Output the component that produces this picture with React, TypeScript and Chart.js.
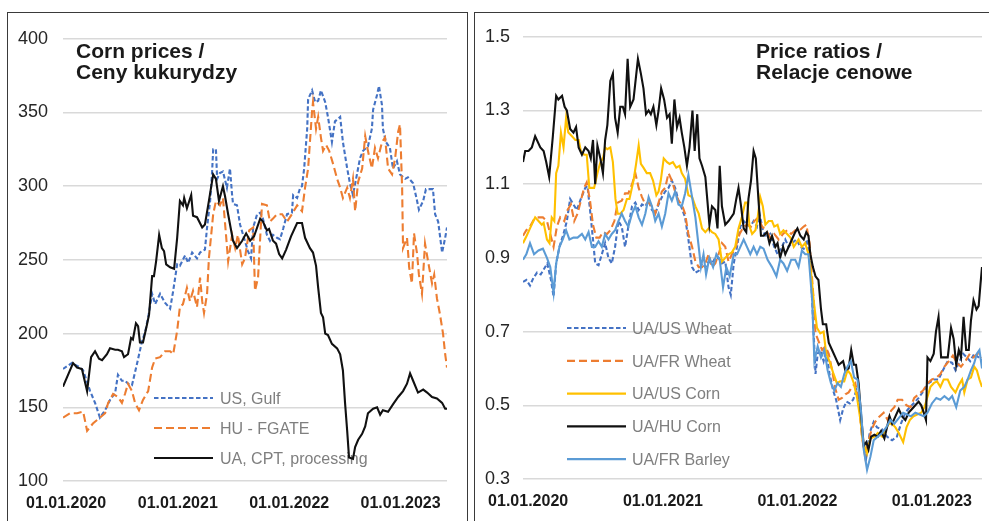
import React, { useEffect, useRef } from "react";
import { Chart, registerables } from "chart.js";

Chart.register(...registerables);

const FONT = "'Liberation Sans', Arial, Helvetica, sans-serif";

// x values are days counted from 01.01.2020
const YEAR_TICK_DAYS = [0, 366, 731, 1096];
const YEAR_TICK_LABELS = ["01.01.2020", "01.01.2021", "01.01.2022", "01.01.2023"];

// ---------- Left panel: Corn prices ----------
const CORN_TITLE = ["Corn prices /", "Ceny kukurydzy"];
const CORN_Y_TICKS = [100, 150, 200, 250, 300, 350, 400];
const CORN_LABELS = ["US, Gulf", "HU - FGATE", "UA, CPT, processing"];

const US_GULF: [number, number][] = [
  [-10,176],[19,180],[46,177],[56,175],[79,161],[95,153],[111,143],[128,148],[144,155],[161,160],[170,172],[183,168],[193,168],[203,166],[216,165],[233,180],[249,195],[259,201],[269,211],[282,227],[292,220],[308,227],[324,221],[341,217],[351,229],[364,247],[373,246],[390,253],[400,248],[413,255],[429,251],[439,255],[455,257],[462,272],[472,290],[478,308],[482,325],[491,325],[495,305],[504,309],[514,310],[527,299],[537,312],[544,294],[547,288],[560,287],[570,274],[580,267],[596,256],[606,251],[613,272],[626,281],[636,282],[645,278],[658,267],[668,263],[678,267],[691,265],[701,264],[711,271],[724,281],[740,282],[744,294],[757,292],[767,299],[773,300],[780,312],[790,339],[793,359],[806,365],[816,357],[826,358],[835,365],[849,357],[858,347],[871,330],[881,344],[898,347],[907,330],[921,312],[930,302],[940,294],[953,308],[963,319],[973,324],[989,327],[1002,339],[1006,352],[1019,362],[1025,368],[1035,355],[1038,339],[1048,330],[1061,326],[1071,312],[1084,317],[1094,308],[1111,305],[1120,306],[1137,302],[1150,290],[1156,284],[1170,290],[1179,298],[1192,298],[1202,298],[1209,281],[1219,276],[1232,255],[1242,265],[1248,272]
];

const HU_FGATE: [number, number][] = [
  [-10,143],[13,146],[36,146],[56,147],[69,134],[88,139],[111,143],[128,146],[138,153],[154,159],[170,157],[183,153],[193,159],[203,166],[216,161],[226,153],[239,148],[252,155],[269,161],[282,177],[292,183],[308,184],[324,188],[341,188],[351,186],[364,202],[373,218],[383,220],[396,231],[406,222],[416,229],[429,218],[439,238],[446,222],[452,214],[462,227],[468,251],[482,281],[491,290],[504,287],[514,292],[524,267],[531,249],[544,267],[554,258],[563,267],[577,247],[586,251],[600,270],[613,272],[619,229],[629,238],[642,288],[658,287],[668,276],[678,278],[691,281],[708,281],[724,276],[740,281],[757,287],[773,283],[783,299],[793,312],[806,351],[809,357],[819,339],[826,347],[835,333],[842,324],[852,328],[862,324],[875,315],[888,305],[898,299],[907,292],[921,299],[930,292],[940,305],[947,283],[957,303],[970,312],[980,334],[989,324],[1002,312],[1012,326],[1022,319],[1035,330],[1045,333],[1055,312],[1068,308],[1078,319],[1088,337],[1094,342],[1101,299],[1104,258],[1117,265],[1124,245],[1133,234],[1140,268],[1150,254],[1156,240],[1166,227],[1176,261],[1186,249],[1199,234],[1206,240],[1215,224],[1225,213],[1235,200],[1242,186],[1248,177]
];

const UA_CPT: [number, number][] = [
  [-10,164],[23,180],[36,177],[52,176],[69,161],[82,184],[95,188],[108,183],[118,182],[134,186],[144,190],[161,189],[170,189],[183,188],[190,184],[203,186],[213,197],[219,196],[229,207],[236,205],[242,194],[252,194],[265,206],[272,213],[282,239],[288,239],[295,249],[305,267],[314,258],[321,256],[328,247],[341,245],[354,244],[364,265],[373,290],[383,287],[387,292],[396,285],[410,294],[416,280],[429,279],[446,272],[455,274],[468,290],[482,308],[491,305],[501,290],[514,300],[521,293],[531,281],[547,263],[560,258],[577,263],[590,268],[603,263],[616,266],[636,278],[645,276],[658,270],[665,271],[678,263],[688,261],[698,254],[708,251],[721,257],[737,266],[757,275],[773,275],[783,265],[799,258],[809,255],[819,246],[826,231],[835,214],[842,211],[849,200],[858,199],[871,193],[888,190],[898,186],[907,175],[914,153],[921,134],[927,116],[940,115],[947,123],[957,128],[970,132],[980,137],[989,146],[1006,149],[1019,150],[1029,145],[1038,148],[1055,147],[1071,152],[1088,157],[1104,161],[1117,166],[1127,173],[1137,168],[1153,160],[1170,162],[1183,160],[1199,157],[1215,156],[1232,153],[1242,149],[1248,149]
];

// ---------- Right panel: Price ratios ----------
const RATIO_TITLE = ["Price ratios /", "Relacje cenowe"];
const RATIO_Y_TICKS = [0.3, 0.5, 0.7, 0.9, 1.1, 1.3, 1.5];
const RATIO_LABELS = ["UA/US Wheat", "UA/FR Wheat", "UA/US Corn", "UA/HU Corn", "UA/FR Barley"];

const UA_US_WHEAT: [number, number][] = [
  [-14,0.835],[-5,0.84],[5,0.825],[14,0.845],[24,0.86],[34,0.855],[43,0.87],[52,0.885],[62,0.84],[69,0.795],[76,0.885],[85,0.93],[96,0.965],[105,1.0],[114,1.06],[123,1.045],[132,1.03],[143,1.06],[155,1.09],[161,1.095],[168,1.03],[176,0.95],[182,0.885],[191,0.88],[200,0.91],[209,0.94],[218,0.9],[227,0.885],[236,0.93],[245,1.0],[254,0.985],[263,0.93],[272,0.985],[282,1.04],[291,1.05],[300,1.03],[309,1.045],[318,1.04],[327,1.055],[336,1.03],[345,1.02],[354,1.045],[363,1.065],[372,1.08],[381,1.09],[390,1.11],[399,1.09],[408,1.055],[417,1.035],[426,1.01],[435,0.95],[445,0.875],[454,0.86],[463,0.865],[472,0.885],[481,0.875],[490,0.89],[499,0.885],[508,0.9],[517,0.9],[526,0.885],[535,0.89],[544,0.82],[550,0.8],[558,0.885],[567,0.93],[576,0.985],[585,1.0],[594,0.99],[603,0.985],[612,1.0],[621,0.985],[628,1.02],[637,0.975],[646,0.955],[657,0.965],[668,0.93],[677,0.91],[689,0.93],[698,0.95],[707,0.93],[716,0.94],[728,0.95],[739,0.93],[748,0.925],[757,0.95],[766,0.89],[775,0.695],[780,0.585],[786,0.64],[793,0.65],[802,0.62],[809,0.65],[818,0.585],[828,0.54],[836,0.515],[847,0.46],[855,0.49],[864,0.51],[873,0.505],[882,0.515],[891,0.54],[900,0.505],[909,0.4],[918,0.36],[927,0.425],[938,0.455],[947,0.44],[961,0.435],[974,0.415],[988,0.405],[1001,0.415],[1012,0.45],[1024,0.48],[1036,0.495],[1046,0.505],[1060,0.52],[1074,0.54],[1087,0.56],[1101,0.57],[1114,0.57],[1126,0.595],[1139,0.62],[1151,0.615],[1160,0.595],[1169,0.615],[1181,0.64],[1191,0.63],[1200,0.62],[1211,0.64],[1223,0.63],[1232,0.62]
];

const UA_FR_WHEAT: [number, number][] = [
  [-14,0.96],[-5,0.975],[5,0.985],[16,1.005],[28,1.01],[40,1.01],[51,1.0],[60,0.965],[69,0.93],[78,0.985],[87,1.01],[98,1.0],[107,1.03],[116,1.045],[125,1.0],[134,1.02],[143,1.055],[152,1.09],[159,1.105],[168,1.055],[176,0.99],[185,0.955],[194,0.955],[203,0.97],[214,0.965],[223,0.975],[234,1.0],[243,1.05],[254,1.055],[263,1.075],[272,1.075],[282,1.1],[291,1.13],[300,1.09],[309,1.065],[318,1.045],[327,1.05],[336,1.04],[345,1.02],[354,1.05],[363,1.08],[372,1.09],[381,1.13],[390,1.11],[399,1.08],[408,1.055],[417,1.045],[426,1.02],[435,0.965],[445,0.93],[454,0.89],[463,0.875],[472,0.875],[481,0.885],[490,0.91],[499,0.875],[508,0.885],[517,0.91],[526,0.94],[535,0.93],[544,0.89],[553,0.91],[562,0.925],[574,0.965],[585,0.985],[596,0.99],[605,0.985],[614,1.0],[625,1.01],[635,0.985],[646,0.975],[657,0.955],[668,0.965],[680,0.95],[692,0.965],[703,0.975],[714,0.965],[725,0.975],[737,0.975],[748,0.985],[755,0.99],[764,0.94],[775,0.785],[780,0.695],[788,0.675],[798,0.65],[807,0.66],[816,0.64],[825,0.595],[834,0.545],[843,0.515],[852,0.52],[861,0.53],[870,0.535],[879,0.55],[888,0.56],[897,0.515],[906,0.415],[915,0.36],[924,0.405],[933,0.435],[942,0.455],[954,0.47],[965,0.48],[976,0.46],[985,0.485],[994,0.495],[1003,0.515],[1015,0.515],[1027,0.5],[1038,0.495],[1048,0.52],[1060,0.53],[1072,0.54],[1084,0.56],[1096,0.57],[1108,0.575],[1119,0.585],[1130,0.605],[1142,0.62],[1153,0.635],[1164,0.615],[1175,0.605],[1187,0.62],[1199,0.64],[1209,0.63],[1220,0.64],[1232,0.63]
];

const UA_US_CORN: [number, number][] = [
  [-14,0.94],[-4,0.96],[5,0.98],[19,1.01],[28,1.0],[37,0.99],[42,0.995],[51,0.95],[58,0.94],[64,1.01],[71,1.0],[76,1.13],[82,1.15],[89,1.24],[96,1.2],[103,1.28],[109,1.24],[119,1.23],[128,1.22],[137,1.22],[143,1.19],[152,1.18],[159,1.18],[166,1.09],[173,1.09],[179,1.09],[188,1.13],[196,1.16],[203,1.17],[209,1.2],[215,1.195],[223,1.2],[230,1.16],[237,1.06],[243,1.02],[250,1.02],[259,1.03],[268,1.06],[275,1.06],[286,1.11],[293,1.155],[300,1.205],[306,1.155],[313,1.145],[322,1.13],[331,1.13],[339,1.11],[348,1.07],[354,1.08],[360,1.11],[368,1.17],[377,1.16],[384,1.155],[393,1.16],[402,1.145],[411,1.15],[417,1.13],[426,1.115],[435,1.07],[445,1.065],[454,1.04],[463,1.02],[472,0.98],[481,0.97],[490,0.98],[499,0.97],[508,0.965],[517,0.95],[526,0.89],[535,0.9],[544,0.91],[553,0.915],[562,0.93],[571,0.98],[580,1.01],[589,1.05],[595,1.05],[601,0.985],[608,0.965],[617,0.975],[623,1.01],[630,1.065],[637,1.04],[644,0.99],[653,1.0],[662,1.0],[668,0.985],[677,0.99],[684,0.965],[693,0.975],[703,0.965],[712,0.955],[721,0.93],[734,0.95],[743,0.93],[752,0.94],[761,0.91],[768,0.86],[775,0.785],[784,0.71],[793,0.695],[802,0.7],[809,0.64],[818,0.62],[829,0.585],[838,0.56],[847,0.565],[858,0.565],[867,0.595],[875,0.585],[884,0.56],[893,0.52],[902,0.46],[909,0.4],[920,0.37],[929,0.41],[940,0.415],[949,0.425],[961,0.415],[970,0.435],[979,0.45],[988,0.45],[997,0.44],[1006,0.425],[1018,0.4],[1027,0.44],[1036,0.46],[1046,0.47],[1056,0.475],[1067,0.48],[1076,0.495],[1083,0.52],[1092,0.55],[1101,0.56],[1110,0.565],[1119,0.55],[1128,0.57],[1139,0.57],[1148,0.55],[1160,0.535],[1169,0.555],[1178,0.57],[1184,0.535],[1193,0.57],[1202,0.575],[1211,0.605],[1218,0.595],[1225,0.57],[1232,0.55]
];

const UA_HU_CORN: [number, number][] = [
  [-14,1.16],[-8,1.19],[1,1.19],[10,1.2],[19,1.23],[33,1.2],[42,1.19],[49,1.16],[57,1.12],[67,1.23],[76,1.34],[82,1.33],[92,1.34],[99,1.31],[105,1.3],[114,1.25],[123,1.24],[130,1.255],[137,1.2],[146,1.18],[155,1.2],[164,1.19],[170,1.17],[176,1.22],[182,1.1],[188,1.205],[196,1.17],[203,1.13],[209,1.22],[215,1.26],[223,1.38],[230,1.4],[236,1.28],[243,1.24],[250,1.31],[257,1.31],[263,1.29],[270,1.44],[277,1.31],[286,1.33],[298,1.44],[306,1.4],[313,1.36],[320,1.29],[327,1.3],[333,1.29],[340,1.31],[348,1.26],[354,1.3],[361,1.36],[369,1.33],[377,1.28],[384,1.29],[390,1.21],[397,1.33],[404,1.255],[411,1.28],[417,1.24],[424,1.2],[431,1.15],[438,1.2],[446,1.3],[452,1.19],[459,1.29],[465,1.17],[472,1.15],[481,1.12],[487,1.05],[492,0.99],[499,1.04],[508,1.03],[514,0.98],[520,1.15],[526,1.04],[535,0.99],[544,1.0],[558,1.02],[565,1.06],[571,1.09],[578,1.04],[585,0.98],[592,0.97],[598,1.06],[605,1.11],[612,1.19],[618,1.17],[625,1.06],[632,0.96],[639,0.96],[648,0.97],[655,0.94],[662,0.96],[671,0.93],[677,0.94],[684,0.9],[692,0.93],[698,0.91],[707,0.93],[716,0.95],[725,0.97],[731,0.98],[739,0.96],[748,0.95],[755,0.97],[761,0.96],[766,0.91],[773,0.875],[780,0.85],[788,0.84],[795,0.76],[800,0.72],[809,0.72],[816,0.67],[825,0.65],[834,0.63],[843,0.61],[855,0.62],[861,0.595],[870,0.6],[877,0.65],[884,0.61],[890,0.61],[897,0.56],[904,0.47],[911,0.39],[918,0.4],[924,0.38],[931,0.415],[940,0.42],[949,0.415],[958,0.43],[967,0.41],[974,0.44],[981,0.47],[988,0.45],[997,0.47],[1006,0.49],[1015,0.47],[1024,0.46],[1033,0.48],[1042,0.49],[1051,0.5],[1060,0.51],[1067,0.5],[1074,0.48],[1080,0.46],[1084,0.63],[1092,0.62],[1101,0.64],[1107,0.7],[1114,0.74],[1121,0.63],[1130,0.63],[1139,0.63],[1148,0.71],[1155,0.68],[1162,0.61],[1169,0.65],[1175,0.63],[1182,0.74],[1189,0.65],[1196,0.65],[1202,0.73],[1209,0.785],[1217,0.76],[1223,0.77],[1228,0.83],[1232,0.875]
];

const UA_FR_BARLEY: [number, number][] = [
  [-14,0.895],[-5,0.91],[5,0.94],[16,0.91],[28,0.92],[40,0.925],[51,0.9],[60,0.875],[69,0.805],[76,0.885],[85,0.93],[94,0.95],[103,0.975],[112,0.95],[123,0.955],[134,0.955],[146,0.965],[155,0.95],[164,0.97],[173,0.93],[182,0.93],[191,0.945],[200,0.93],[209,0.965],[218,0.95],[227,0.965],[236,0.975],[245,1.0],[254,1.02],[263,1.0],[272,0.985],[282,1.02],[291,1.04],[300,1.01],[309,0.99],[318,1.02],[327,1.065],[336,1.04],[345,1.0],[354,1.02],[363,0.985],[372,1.02],[381,1.075],[390,1.055],[399,1.08],[408,1.045],[417,1.04],[426,1.075],[435,1.125],[445,1.065],[454,1.01],[463,0.93],[469,0.875],[476,0.91],[483,0.855],[492,0.9],[502,0.875],[511,0.91],[520,0.895],[529,0.82],[538,0.875],[547,0.85],[558,0.91],[567,0.91],[576,0.93],[585,0.95],[594,0.93],[603,0.91],[612,0.93],[621,0.91],[630,0.93],[639,0.925],[650,0.895],[662,0.875],[674,0.85],[684,0.895],[693,0.885],[703,0.865],[714,0.895],[725,0.895],[734,0.875],[743,0.92],[752,0.91],[761,0.91],[771,0.785],[777,0.62],[786,0.66],[795,0.63],[804,0.65],[813,0.595],[822,0.56],[831,0.54],[840,0.56],[849,0.55],[858,0.585],[867,0.605],[876,0.62],[885,0.575],[894,0.57],[904,0.48],[911,0.38],[920,0.325],[929,0.36],[938,0.405],[949,0.415],[961,0.425],[972,0.44],[983,0.46],[994,0.45],[1006,0.465],[1018,0.48],[1029,0.475],[1039,0.47],[1051,0.48],[1063,0.475],[1074,0.47],[1084,0.48],[1096,0.505],[1108,0.52],[1119,0.515],[1130,0.525],[1142,0.515],[1151,0.525],[1162,0.495],[1173,0.54],[1184,0.55],[1193,0.57],[1202,0.595],[1211,0.615],[1218,0.64],[1225,0.65],[1232,0.6]
];

const BLUE = "#4472C4";
const ORANGE = "#ED7D31";
const YELLOW = "#FFC000";
const BLACK = "#111111";
const LIGHTBLUE = "#5B9BD5";

const SHORT_DASH = [4.5, 2.5];
const LONG_DASH = [8, 4];

function series(label: string, pts: [number, number][], color: string, dash: number[], order: number) {
  return {
    label,
    data: pts.map(([x, y]) => ({ x, y })),
    borderColor: color,
    backgroundColor: color,
    borderWidth: 2.1,
    borderDash: dash,
    pointRadius: 0,
    tension: 0,
    fill: false,
    order,
  };
}

const inlineLegend = {
  id: "inlineLegend",
  beforeDatasetsDraw(chart: any, _args: any, opts: any) {
    const ctx = chart.ctx;
    chart.data.datasets.forEach((ds: any, i: number) => {
      const y = opts.y + i * opts.dy;
      ctx.save();
      ctx.strokeStyle = ds.borderColor;
      ctx.lineWidth = 2.2;
      ctx.setLineDash(ds.borderDash || []);
      ctx.beginPath();
      ctx.moveTo(opts.x, y);
      ctx.lineTo(opts.x + opts.len, y);
      ctx.stroke();
      ctx.setLineDash([]);
      ctx.fillStyle = "#7f7f7f";
      ctx.font = `${opts.size}px ${FONT}`;
      ctx.textBaseline = "alphabetic";
      ctx.textAlign = "left";
      ctx.fillText(ds.label, opts.x + opts.len + opts.gap, y + opts.size * 0.36);
      ctx.restore();
    });
  },
};

type PanelProps = {
  left: number;
  top: number;
  width: number;
  height: number;
  datasets: any[];
  xMin: number;
  xMax: number;
  yMin: number;
  yMax: number;
  yTicks: number[];
  yDecimals: number;
  yWidth: number;
  yPad: number;
  xHeight: number;
  padTop: number;
  padRight: number;
  legend: any;
};

function PanelChart(p: PanelProps) {
  const ref = useRef<HTMLCanvasElement | null>(null);
  useEffect(() => {
    if (!ref.current) return;
    const chart = new Chart(ref.current, {
      type: "line",
      data: { datasets: p.datasets },
      options: {
        animation: false,
        responsive: false,
        maintainAspectRatio: false,
        layout: { padding: { top: p.padTop, right: p.padRight, left: 0, bottom: 0 } },
        plugins: {
          legend: { display: false },
          tooltip: { enabled: false },
          title: { display: false },
          inlineLegend: p.legend,
        } as any,
        scales: {
          x: {
            type: "linear",
            min: p.xMin,
            max: p.xMax,
            grid: { display: false },
            border: { display: false },
            afterBuildTicks: (s: any) => {
              s.ticks = YEAR_TICK_DAYS.map((v) => ({ value: v }));
            },
            afterFit: (s: any) => {
              s.height = p.xHeight;
            },
            ticks: {
              autoSkip: false,
              maxRotation: 0,
              padding: 5,
              color: "#1a1a1a",
              font: { family: FONT, size: 16, weight: "bold" },
              callback: (v: any) => {
                const i = YEAR_TICK_DAYS.indexOf(Number(v));
                return i >= 0 ? YEAR_TICK_LABELS[i] : "";
              },
            },
          },
          y: {
            type: "linear",
            min: p.yMin,
            max: p.yMax,
            border: { display: false },
            grid: { color: "#d9d9d9", lineWidth: 1.5, drawTicks: false },
            afterBuildTicks: (s: any) => {
              s.ticks = p.yTicks.map((v) => ({ value: v }));
            },
            afterFit: (s: any) => {
              s.width = p.yWidth;
            },
            ticks: {
              padding: p.yPad,
              color: "#262626",
              font: { family: FONT, size: 18 },
              callback: (v: any) => Number(v).toFixed(p.yDecimals),
            },
          },
        },
      },
      plugins: [inlineLegend],
    });
    return () => chart.destroy();
  }, []);
  return (
    <canvas
      ref={ref}
      width={p.width}
      height={p.height}
      style={{ position: "absolute", left: p.left, top: p.top, width: p.width, height: p.height }}
    />
  );
}

const titleStyle: React.CSSProperties = {
  position: "absolute",
  fontFamily: FONT,
  fontWeight: "bold",
  fontSize: 21,
  lineHeight: "21px",
  color: "#1a1a1a",
  whiteSpace: "nowrap",
};

export default function App() {
  const cornSets = [
    series(CORN_LABELS[0], US_GULF, BLUE, SHORT_DASH, 3),
    series(CORN_LABELS[1], HU_FGATE, ORANGE, LONG_DASH, 2),
    series(CORN_LABELS[2], UA_CPT, BLACK, [], 1),
  ];
  const ratioSets = [
    series(RATIO_LABELS[0], UA_US_WHEAT, BLUE, SHORT_DASH, 5),
    series(RATIO_LABELS[1], UA_FR_WHEAT, ORANGE, LONG_DASH, 4),
    series(RATIO_LABELS[2], UA_US_CORN, YELLOW, [], 3),
    series(RATIO_LABELS[3], UA_HU_CORN, BLACK, [], 2),
    series(RATIO_LABELS[4], UA_FR_BARLEY, LIGHTBLUE, [], 1),
  ];
  return (
    <div style={{ position: "absolute", left: 0, top: 0, width: 989, height: 521, overflow: "hidden", background: "#fff" }}>
      <div style={{ position: "absolute", left: 7, top: 12, width: 459, height: 540, border: "1px solid #3a3a3a" }} />
      <div style={{ position: "absolute", left: 474, top: 12, width: 540, height: 540, border: "1px solid #3a3a3a" }} />
      <PanelChart
        left={8}
        top={13}
        width={458}
        height={508}
        datasets={cornSets}
        xMin={-10}
        xMax={1248}
        yMin={100}
        yMax={400}
        yTicks={CORN_Y_TICKS}
        yDecimals={0}
        yWidth={55}
        yPad={15}
        xHeight={40}
        padTop={23}
        padRight={19}
        legend={{ x: 146, y: 385, dy: 30, len: 59, gap: 7, size: 16 }}
      />
      <PanelChart
        left={475}
        top={13}
        width={514}
        height={508}
        datasets={ratioSets}
        xMin={-14}
        xMax={1232}
        yMin={0.3}
        yMax={1.5}
        yTicks={RATIO_Y_TICKS}
        yDecimals={1}
        yWidth={48}
        yPad={13}
        xHeight={42}
        padTop={23}
        padRight={7}
        legend={{ x: 92, y: 315, dy: 32.8, len: 59, gap: 6, size: 16 }}
      />
      <div style={{ ...titleStyle, left: 76, top: 40 }}>
        {CORN_TITLE[0]}
        <br />
        {CORN_TITLE[1]}
      </div>
      <div style={{ ...titleStyle, left: 756, top: 40 }}>
        {RATIO_TITLE[0]}
        <br />
        {RATIO_TITLE[1]}
      </div>
    </div>
  );
}
